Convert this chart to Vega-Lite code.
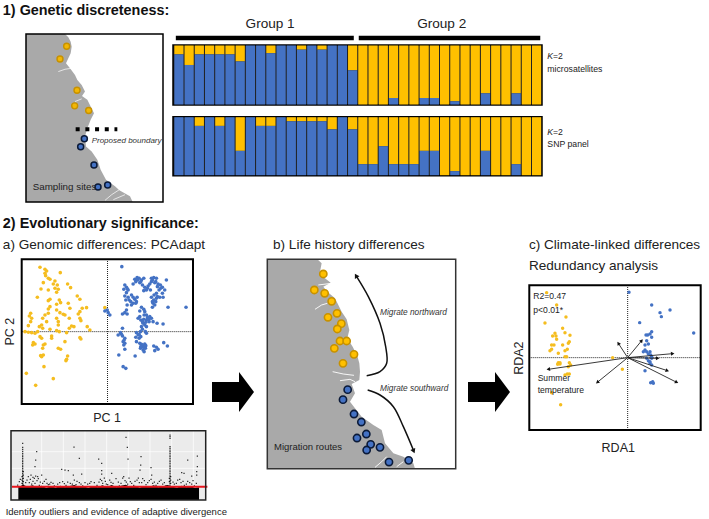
{"$schema":"https://vega.github.io/schema/vega-lite/v6.json","width":709,"height":519,"padding":0,"autosize":"none","background":"white","config":{"view":{"stroke":null},"text":{"font":"Liberation Sans"}},
"datasets":{
"frame01":[{"x":0,"x2":1,"y":0,"y2":1}],
"arrow":[{"x":0,"y":-10,"y2":10},{"x":27,"y":-10,"y2":10},{"x":27,"y":-20,"y2":20},{"x":42,"y":0,"y2":0}],
"q1":[{"ind":1,"blue":0.85},{"ind":2,"blue":0.67},{"ind":3,"blue":0.85},{"ind":4,"blue":0.85},{"ind":5,"blue":0.85},{"ind":6,"blue":0.85},{"ind":7,"blue":0.73},{"ind":8,"blue":1},{"ind":9,"blue":1},{"ind":10,"blue":0.87},{"ind":11,"blue":1},{"ind":12,"blue":1},{"ind":13,"blue":0.93},{"ind":14,"blue":1},{"ind":15,"blue":0.93},{"ind":16,"blue":1},{"ind":17,"blue":1},{"ind":18,"blue":0.58},{"ind":19,"blue":0},{"ind":20,"blue":0},{"ind":21,"blue":0},{"ind":22,"blue":0.11},{"ind":23,"blue":0},{"ind":24,"blue":0},{"ind":25,"blue":0.11},{"ind":26,"blue":0.11},{"ind":27,"blue":0},{"ind":28,"blue":0.055},{"ind":29,"blue":0},{"ind":30,"blue":0},{"ind":31,"blue":0.19},{"ind":32,"blue":0},{"ind":33,"blue":0},{"ind":34,"blue":0.19},{"ind":35,"blue":0},{"ind":36,"blue":0}],
"q2":[{"ind":1,"blue":1},{"ind":2,"blue":1},{"ind":3,"blue":0.85},{"ind":4,"blue":1},{"ind":5,"blue":0.85},{"ind":6,"blue":1},{"ind":7,"blue":0.42},{"ind":8,"blue":1},{"ind":9,"blue":0.85},{"ind":10,"blue":0.85},{"ind":11,"blue":1},{"ind":12,"blue":0.93},{"ind":13,"blue":0.93},{"ind":14,"blue":0.93},{"ind":15,"blue":0.93},{"ind":16,"blue":0.79},{"ind":17,"blue":1},{"ind":18,"blue":0.79},{"ind":19,"blue":0.19},{"ind":20,"blue":0.19},{"ind":21,"blue":0.5},{"ind":22,"blue":0.19},{"ind":23,"blue":0.19},{"ind":24,"blue":0.19},{"ind":25,"blue":0.42},{"ind":26,"blue":0.42},{"ind":27,"blue":0},{"ind":28,"blue":0.07},{"ind":29,"blue":0},{"ind":30,"blue":0},{"ind":31,"blue":0.42},{"ind":32,"blue":0},{"ind":33,"blue":0},{"ind":34,"blue":0.19},{"ind":35,"blue":0},{"ind":36,"blue":0}]
},
"resolve":{"scale":{"x":"independent","y":"independent"}},
"layer":[
{"encoding":{"x":{"field":"x","type":"quantitative","axis":null,"scale":{"domain":[0,411],"range":[26,163],"nice":false,"zero":false}},"y":{"field":"y","type":"quantitative","axis":null,"scale":{"domain":[0,505],"range":[202,34],"nice":false,"zero":false}}},
"layer":[
{"data":{"values":[{"x":117,"y":505,"x2":0},{"x":127,"y":495,"x2":0},{"x":134,"y":482,"x2":0},{"x":137,"y":467,"x2":0},{"x":134,"y":447,"x2":0},{"x":127,"y":432,"x2":0},{"x":120,"y":417,"x2":0},{"x":132,"y":402,"x2":0},{"x":147,"y":382,"x2":0},{"x":154,"y":367,"x2":0},{"x":167,"y":352,"x2":0},{"x":177,"y":332,"x2":0},{"x":168,"y":319,"x2":0},{"x":184,"y":307,"x2":0},{"x":194,"y":287,"x2":0},{"x":204,"y":267,"x2":0},{"x":194,"y":247,"x2":0},{"x":184,"y":222,"x2":0},{"x":177,"y":197,"x2":0},{"x":180,"y":167,"x2":0},{"x":197,"y":152,"x2":0},{"x":214,"y":127,"x2":0},{"x":224,"y":97,"x2":0},{"x":240,"y":67,"x2":0},{"x":267,"y":47,"x2":0},{"x":280,"y":35,"x2":0},{"x":312,"y":17,"x2":0},{"x":320,"y":0,"x2":0}]},"mark":{"type":"area","orient":"horizontal","color":"#A9A9A9"},"encoding":{"x2":{"field":"x2"}}},
{"data":{"values":[{"inlet":"a","ord":1,"x":97,"y":392},{"inlet":"a","ord":2,"x":117,"y":399},{"inlet":"a","ord":3,"x":137,"y":402},{"inlet":"b","ord":1,"x":237,"y":5},{"inlet":"b","ord":2,"x":257,"y":22},{"inlet":"b","ord":3,"x":280,"y":37},{"inlet":"c","ord":1,"x":262,"y":7},{"inlet":"c","ord":2,"x":297,"y":22},{"inlet":"e","ord":1,"x":167,"y":310},{"inlet":"e","ord":2,"x":147,"y":302}]},"mark":{"type":"line","color":"white","strokeWidth":0.7},"encoding":{"detail":{"field":"inlet"},"order":{"field":"ord"}}},
{"data":{"values":[{"x":149,"x2":274,"y":219,"y2":219}]},"mark":{"type":"rule","color":"black","strokeWidth":4,"strokeDash":[4,5.7]},"encoding":{"x2":{"field":"x2"},"y2":{"field":"y2"}}},
{"data":{"values":[{"x":122,"y":468},{"x":102,"y":430},{"x":153,"y":336},{"x":146,"y":289},{"x":188,"y":275}]},"mark":{"type":"point","filled":true,"fill":"#F2B705","stroke":"#C79100","strokeWidth":1.4,"size":36,"opacity":1}},
{"data":{"values":[{"x":175,"y":190},{"x":164,"y":166},{"x":204,"y":111},{"x":245,"y":51},{"x":216,"y":45}]},"mark":{"type":"point","filled":true,"fill":"#4472C4","stroke":"#0B1A38","strokeWidth":1.5,"size":36,"opacity":1}},
{"data":{"values":[{"x":197,"y":184,"label":"Proposed boundary"}]},"mark":{"type":"text","align":"left","baseline":"middle","fontSize":8,"fontStyle":"italic","color":"#333"},"encoding":{"text":{"field":"label"}}},
{"data":{"values":[{"x":20,"y":45,"label":"Sampling sites"}]},"mark":{"type":"text","align":"left","baseline":"middle","fontSize":9.8,"color":"#222"},"encoding":{"text":{"field":"label"}}},
{"data":{"values":[{"x":0,"x2":411,"y":0,"y2":505}]},"mark":{"type":"rect","fill":"transparent","stroke":"black","strokeWidth":1.5},"encoding":{"x2":{"field":"x2"},"y2":{"field":"y2"}}}
]},
{"data":{"name":"frame01"},"mark":{"type":"rect","fill":"#222222","stroke":"black","strokeWidth":1.5},"encoding":{"x":{"field":"x","type":"quantitative","axis":null,"scale":{"domain":[0,1],"range":[173,542]}},"x2":{"field":"x2"},"y":{"field":"y","type":"quantitative","axis":null,"scale":{"domain":[0,1],"range":[105,45]}},"y2":{"field":"y2"}}},
{"data":{"name":"frame01"},"mark":{"type":"rect","fill":"#222222","stroke":"black","strokeWidth":1.5},"encoding":{"x":{"field":"x","type":"quantitative","axis":null,"scale":{"domain":[0,1],"range":[173,542]}},"x2":{"field":"x2"},"y":{"field":"y","type":"quantitative","axis":null,"scale":{"domain":[0,1],"range":[175.7,116.7]}},"y2":{"field":"y2"}}},
{"data":{"name":"q1"},"encoding":{"x":{"field":"ind","type":"ordinal","axis":null,"scale":{"type":"band","range":[174,541.5],"paddingInner":0.1,"paddingOuter":0.03}},"y":{"field":"blue","type":"quantitative","axis":null,"scale":{"domain":[0,1],"range":[104.5,45.5],"nice":false}}},"layer":[{"mark":{"type":"bar","color":"#FFC000"},"encoding":{"y2":{"datum":1}}},{"mark":{"type":"bar","color":"#4472C4"},"encoding":{"y2":{"datum":0}}}]},
{"data":{"name":"q2"},"encoding":{"x":{"field":"ind","type":"ordinal","axis":null,"scale":{"type":"band","range":[174,541.5],"paddingInner":0.1,"paddingOuter":0.03}},"y":{"field":"blue","type":"quantitative","axis":null,"scale":{"domain":[0,1],"range":[175.2,117.2],"nice":false}}},"layer":[{"mark":{"type":"bar","color":"#FFC000"},"encoding":{"y2":{"datum":1}}},{"mark":{"type":"bar","color":"#4472C4"},"encoding":{"y2":{"datum":0}}}]},
{"encoding":{"x":{"field":"x","type":"quantitative","axis":null,"scale":{"domain":[-258,257],"range":[21.7,193],"nice":false,"zero":false}},"y":{"field":"y","type":"quantitative","axis":null,"scale":{"domain":[-217,217],"range":[404,259.3],"nice":false,"zero":false}}},
"layer":[
{"data":{"values":[{"x":-258,"x2":257,"y":0,"y2":0},{"x":0,"x2":0,"y":-217,"y2":217}]},"mark":{"type":"rule","color":"#222","strokeWidth":1,"strokeDash":[1,1]},"encoding":{"x2":{"field":"x2"},"y2":{"field":"y2"}}},
{"data":{"values":[{"x":-203,"y":193},{"x":-188,"y":187},{"x":-183,"y":182},{"x":-188,"y":175},{"x":-142,"y":177},{"x":-186,"y":168},{"x":-178,"y":160},{"x":-173,"y":157},{"x":-193,"y":147},{"x":-158,"y":152},{"x":-163,"y":143},{"x":-151,"y":140},{"x":-120,"y":143},{"x":-111,"y":132},{"x":-200,"y":128},{"x":-178,"y":125},{"x":-158,"y":130},{"x":-148,"y":127},{"x":-153,"y":118},{"x":-211,"y":103},{"x":-91,"y":107},{"x":-83,"y":97},{"x":-173,"y":97},{"x":-178,"y":93},{"x":-145,"y":95},{"x":-141,"y":87},{"x":-153,"y":82},{"x":-118,"y":85},{"x":-113,"y":70},{"x":-173,"y":75},{"x":-178,"y":68},{"x":-63,"y":72},{"x":-76,"y":70},{"x":-83,"y":60},{"x":-88,"y":53},{"x":-83,"y":40},{"x":-80,"y":33},{"x":-231,"y":55},{"x":-235,"y":47},{"x":-228,"y":40},{"x":-231,"y":30},{"x":-188,"y":50},{"x":-195,"y":40},{"x":-178,"y":55},{"x":-153,"y":40},{"x":-148,"y":30},{"x":-133,"y":52},{"x":-128,"y":50},{"x":-143,"y":57},{"x":-153,"y":65},{"x":-115,"y":40},{"x":-183,"y":30},{"x":-198,"y":20},{"x":-205,"y":15},{"x":-195,"y":10},{"x":-210,"y":0},{"x":-238,"y":18},{"x":-248,"y":0},{"x":-108,"y":17},{"x":-101,"y":15},{"x":-115,"y":10},{"x":-61,"y":15},{"x":-53,"y":5},{"x":-123,"y":-3},{"x":-153,"y":3},{"x":-145,"y":0},{"x":-173,"y":7},{"x":-148,"y":20},{"x":-203,"y":-15},{"x":-198,"y":-20},{"x":-168,"y":-13},{"x":-168,"y":-20},{"x":-128,"y":-30},{"x":-83,"y":-18},{"x":-80,"y":-22},{"x":-223,"y":-33},{"x":-218,"y":-37},{"x":-225,"y":-40},{"x":-193,"y":-40},{"x":-188,"y":-37},{"x":-195,"y":-50},{"x":-148,"y":-50},{"x":-141,"y":-53},{"x":-193,"y":-70},{"x":-201,"y":-72},{"x":-198,"y":-75},{"x":-120,"y":-73},{"x":-125,"y":-87},{"x":-123,"y":-83},{"x":-191,"y":-105},{"x":-244,"y":-125},{"x":-163,"y":-141},{"x":-216,"y":-161},{"x":-8,"y":72},{"x":-228,"y":-3},{"x":-238,"y":-2},{"x":-218,"y":-5}]},"mark":{"type":"point","filled":true,"color":"#F5BD1F","size":13,"opacity":1}},
{"data":{"values":[{"x":43,"y":195},{"x":82,"y":157},{"x":89,"y":162},{"x":95,"y":160},{"x":85,"y":150},{"x":97,"y":147},{"x":102,"y":155},{"x":109,"y":160},{"x":77,"y":143},{"x":52,"y":140},{"x":57,"y":133},{"x":49,"y":127},{"x":62,"y":125},{"x":57,"y":117},{"x":52,"y":107},{"x":62,"y":103},{"x":72,"y":110},{"x":77,"y":103},{"x":82,"y":97},{"x":89,"y":103},{"x":87,"y":90},{"x":77,"y":85},{"x":55,"y":95},{"x":59,"y":80},{"x":72,"y":80},{"x":105,"y":140},{"x":112,"y":133},{"x":117,"y":125},{"x":109,"y":123},{"x":122,"y":137},{"x":129,"y":125},{"x":132,"y":160},{"x":139,"y":162},{"x":147,"y":160},{"x":132,"y":150},{"x":127,"y":143},{"x":142,"y":147},{"x":152,"y":143},{"x":159,"y":140},{"x":165,"y":133},{"x":172,"y":125},{"x":177,"y":155},{"x":155,"y":125},{"x":147,"y":115},{"x":165,"y":115},{"x":132,"y":103},{"x":139,"y":95},{"x":147,"y":100},{"x":137,"y":85},{"x":135,"y":73},{"x":142,"y":80},{"x":167,"y":103},{"x":157,"y":103},{"x":182,"y":73},{"x":236,"y":73},{"x":-8,"y":62},{"x":-1,"y":65},{"x":2,"y":57},{"x":7,"y":50},{"x":57,"y":65},{"x":52,"y":57},{"x":45,"y":53},{"x":59,"y":53},{"x":102,"y":73},{"x":109,"y":67},{"x":97,"y":62},{"x":112,"y":60},{"x":92,"y":40},{"x":97,"y":45},{"x":117,"y":50},{"x":127,"y":45},{"x":109,"y":37},{"x":117,"y":35},{"x":125,"y":30},{"x":132,"y":40},{"x":137,"y":30},{"x":107,"y":25},{"x":102,"y":15},{"x":112,"y":20},{"x":117,"y":15},{"x":105,"y":7},{"x":149,"y":25},{"x":167,"y":23},{"x":45,"y":10},{"x":39,"y":-3},{"x":32,"y":-10},{"x":45,"y":-13},{"x":52,"y":-20},{"x":47,"y":-30},{"x":49,"y":-40},{"x":52,"y":-53},{"x":87,"y":-3},{"x":92,"y":-10},{"x":85,"y":-17},{"x":95,"y":-20},{"x":99,"y":0},{"x":114,"y":0},{"x":117,"y":-5},{"x":87,"y":-30},{"x":97,"y":-35},{"x":102,"y":-38},{"x":112,"y":-37},{"x":105,"y":-45},{"x":99,"y":-50},{"x":114,"y":-50},{"x":107,"y":-55},{"x":110,"y":-60},{"x":139,"y":-43},{"x":147,"y":-47},{"x":152,"y":-53},{"x":142,"y":-57},{"x":169,"y":-33},{"x":180,"y":-43},{"x":34,"y":-70},{"x":83,"y":-73},{"x":47,"y":-105},{"x":55,"y":-110},{"x":90,"y":155},{"x":100,"y":150},{"x":60,"y":128},{"x":120,"y":130},{"x":135,"y":155},{"x":145,"y":150},{"x":150,"y":135},{"x":160,"y":130},{"x":140,"y":110},{"x":150,"y":105},{"x":135,"y":90},{"x":145,"y":90},{"x":85,"y":85},{"x":70,"y":90},{"x":65,"y":95},{"x":110,"y":50},{"x":100,"y":35},{"x":120,"y":42},{"x":125,"y":38},{"x":105,"y":30},{"x":115,"y":28},{"x":95,"y":-8},{"x":100,"y":-15},{"x":105,"y":-42},{"x":110,"y":-48},{"x":100,"y":-45},{"x":115,"y":-42},{"x":52,"y":-35},{"x":50,"y":-25},{"x":42,"y":-8}]},"mark":{"type":"point","filled":true,"color":"#4472C4","size":13,"opacity":1}},
{"data":{"values":[{"x":-258,"x2":257,"y":-217,"y2":217}]},"mark":{"type":"rect","fill":"transparent","stroke":"black","strokeWidth":2},"encoding":{"x2":{"field":"x2"},"y2":{"field":"y2"}}}
]},
{"encoding":{"x":{"field":"x","type":"quantitative","axis":null,"scale":{"domain":[0,584],"range":[11,205.7],"nice":false,"zero":false}},"y":{"field":"y","type":"quantitative","axis":null,"scale":{"domain":[0,208],"range":[500,430.7],"nice":false,"zero":false}}},
"layer":[
{"data":{"values":[{"x":0,"x2":584,"y":0,"y2":208}]},"mark":{"type":"rect","fill":"#EBEBEB"},"encoding":{"x2":{"field":"x2"},"y2":{"field":"y2"}}},
{"data":{"values":[{"x":92,"x2":92,"y":0,"y2":208},{"x":157,"x2":157,"y":0,"y2":208},{"x":222,"x2":222,"y":0,"y2":208},{"x":287,"x2":287,"y":0,"y2":208},{"x":352,"x2":352,"y":0,"y2":208},{"x":417,"x2":417,"y":0,"y2":208},{"x":482,"x2":482,"y":0,"y2":208},{"x":547,"x2":547,"y":0,"y2":208},{"x":0,"x2":584,"y":145,"y2":145},{"x":0,"x2":584,"y":95,"y2":95}]},"mark":{"type":"rule","color":"white","strokeWidth":0.7},"encoding":{"x2":{"field":"x2"},"y2":{"field":"y2"}}},
{"data":{"values":[{"x":22,"y":38,"y2":0},{"x":36,"y":46,"y2":0},{"x":50,"y":40,"y2":0},{"x":64,"y":44,"y2":0},{"x":78,"y":39,"y2":0},{"x":92,"y":43,"y2":0},{"x":106,"y":36,"y2":0},{"x":120,"y":41,"y2":0},{"x":134,"y":37,"y2":0},{"x":148,"y":43,"y2":0},{"x":162,"y":38,"y2":0},{"x":176,"y":42,"y2":0},{"x":190,"y":45,"y2":0},{"x":204,"y":38,"y2":0},{"x":218,"y":41,"y2":0},{"x":232,"y":36,"y2":0},{"x":246,"y":42,"y2":0},{"x":260,"y":38,"y2":0},{"x":274,"y":44,"y2":0},{"x":288,"y":39,"y2":0},{"x":302,"y":45,"y2":0},{"x":316,"y":38,"y2":0},{"x":330,"y":43,"y2":0},{"x":344,"y":46,"y2":0},{"x":358,"y":39,"y2":0},{"x":372,"y":43,"y2":0},{"x":386,"y":37,"y2":0},{"x":400,"y":42,"y2":0},{"x":414,"y":39,"y2":0},{"x":428,"y":44,"y2":0},{"x":442,"y":38,"y2":0},{"x":456,"y":41,"y2":0},{"x":470,"y":45,"y2":0},{"x":484,"y":40,"y2":0},{"x":498,"y":37,"y2":0},{"x":512,"y":43,"y2":0},{"x":526,"y":38,"y2":0},{"x":540,"y":41,"y2":0},{"x":552,"y":36,"y2":0},{"x":564,"y":38,"y2":0}]},"mark":{"type":"area","color":"black"},"encoding":{"y2":{"field":"y2"}}},
{"data":{"values":[{"x":345,"y":188},{"x":349,"y":158},{"x":189,"y":159},{"x":77,"y":145},{"x":205,"y":125},{"x":263,"y":123},{"x":351,"y":123},{"x":390,"y":130},{"x":389,"y":105},{"x":272,"y":110},{"x":530,"y":120},{"x":559,"y":132},{"x":559,"y":100},{"x":420,"y":97},{"x":74,"y":120},{"x":72,"y":100},{"x":152,"y":92},{"x":162,"y":90},{"x":172,"y":88},{"x":272,"y":88},{"x":272,"y":78},{"x":212,"y":78},{"x":92,"y":75},{"x":187,"y":75},{"x":302,"y":80},{"x":387,"y":90},{"x":557,"y":85},{"x":512,"y":82},{"x":519,"y":80},{"x":557,"y":75},{"x":542,"y":72},{"x":422,"y":75},{"x":48,"y":60},{"x":55,"y":52},{"x":62,"y":48},{"x":70,"y":65},{"x":78,"y":58},{"x":85,"y":44},{"x":95,"y":50},{"x":105,"y":62},{"x":112,"y":46},{"x":120,"y":53},{"x":130,"y":42},{"x":140,"y":48},{"x":155,"y":55},{"x":165,"y":44},{"x":178,"y":50},{"x":190,"y":60},{"x":195,"y":46},{"x":205,"y":52},{"x":215,"y":42},{"x":230,"y":48},{"x":240,"y":55},{"x":258,"y":44},{"x":268,"y":62},{"x":275,"y":50},{"x":283,"y":56},{"x":290,"y":46},{"x":300,"y":53},{"x":315,"y":64},{"x":325,"y":42},{"x":335,"y":66},{"x":342,"y":58},{"x":350,"y":48},{"x":358,"y":55},{"x":368,"y":44},{"x":378,"y":60},{"x":385,"y":52},{"x":395,"y":64},{"x":405,"y":46},{"x":415,"y":58},{"x":425,"y":50},{"x":435,"y":44},{"x":445,"y":56},{"x":455,"y":48},{"x":465,"y":42},{"x":490,"y":48},{"x":500,"y":60},{"x":510,"y":52},{"x":520,"y":44},{"x":530,"y":56},{"x":542,"y":48},{"x":550,"y":42},{"x":20,"y":45},{"x":25,"y":55},{"x":28,"y":62},{"x":52,"y":70},{"x":60,"y":75},{"x":66,"y":68},{"x":80,"y":70},{"x":44,"y":52},{"x":58,"y":62},{"x":66,"y":56},{"x":72,"y":50},{"x":74,"y":72},{"x":82,"y":64},{"x":88,"y":54},{"x":100,"y":56},{"x":108,"y":50},{"x":116,"y":48},{"x":126,"y":50},{"x":146,"y":52},{"x":160,"y":49},{"x":170,"y":54},{"x":184,"y":48},{"x":198,"y":56},{"x":210,"y":48},{"x":222,"y":52},{"x":236,"y":50},{"x":250,"y":52},{"x":264,"y":54},{"x":272,"y":58},{"x":280,"y":66},{"x":286,"y":48},{"x":296,"y":60},{"x":306,"y":50},{"x":322,"y":54},{"x":330,"y":50},{"x":338,"y":70},{"x":346,"y":54},{"x":354,"y":66},{"x":362,"y":50},{"x":372,"y":56},{"x":382,"y":66},{"x":392,"y":52},{"x":400,"y":58},{"x":410,"y":52},{"x":420,"y":62},{"x":430,"y":54},{"x":440,"y":50},{"x":450,"y":60},{"x":460,"y":52},{"x":486,"y":54},{"x":496,"y":50},{"x":506,"y":62},{"x":516,"y":56},{"x":526,"y":48},{"x":536,"y":52},{"x":546,"y":58},{"x":556,"y":50},{"x":35,"y":40},{"x":35,"y":45},{"x":35,"y":50},{"x":35,"y":55},{"x":35,"y":60},{"x":35,"y":65},{"x":35,"y":70},{"x":35,"y":75},{"x":35,"y":80},{"x":35,"y":85},{"x":35,"y":90},{"x":35,"y":95},{"x":35,"y":100},{"x":35,"y":105},{"x":35,"y":110},{"x":35,"y":115},{"x":35,"y":120},{"x":35,"y":125},{"x":35,"y":130},{"x":35,"y":135},{"x":35,"y":140},{"x":35,"y":146},{"x":35,"y":152},{"x":35,"y":158},{"x":35,"y":170},{"x":37,"y":45},{"x":37,"y":55},{"x":37,"y":65},{"x":37,"y":75},{"x":37,"y":85},{"x":33,"y":50},{"x":33,"y":60},{"x":33,"y":70},{"x":477,"y":40},{"x":477,"y":45},{"x":477,"y":50},{"x":477,"y":55},{"x":477,"y":60},{"x":477,"y":65},{"x":477,"y":70},{"x":477,"y":75},{"x":477,"y":80},{"x":477,"y":85},{"x":477,"y":90},{"x":477,"y":95},{"x":477,"y":100},{"x":477,"y":105},{"x":477,"y":110},{"x":477,"y":115},{"x":477,"y":120},{"x":477,"y":125},{"x":477,"y":130},{"x":477,"y":135},{"x":477,"y":140},{"x":477,"y":145},{"x":477,"y":150},{"x":477,"y":155},{"x":477,"y":160},{"x":477,"y":185},{"x":477,"y":190},{"x":477,"y":195},{"x":479,"y":50},{"x":479,"y":60},{"x":479,"y":70},{"x":475,"y":55},{"x":475,"y":65}]},"mark":{"type":"point","shape":"square","filled":true,"color":"black","size":1.6,"opacity":0.8}},
{"data":{"values":[{"x":3,"x2":589,"y":40,"y2":40}]},"mark":{"type":"rule","color":"#E8141C","strokeWidth":2},"encoding":{"x2":{"field":"x2"},"y2":{"field":"y2"}}},
{"data":{"values":[{"x":0,"x2":584,"y":0,"y2":208}]},"mark":{"type":"rect","fill":"transparent","stroke":"#222","strokeWidth":1.5},"encoding":{"x2":{"field":"x2"},"y2":{"field":"y2"}}}
]},
{"encoding":{"x":{"field":"x","type":"quantitative","axis":null,"scale":{"domain":[0,565],"range":[267.3,455.7],"nice":false,"zero":false}},"y":{"field":"y","type":"quantitative","axis":null,"scale":{"domain":[0,628],"range":[468.7,259.3],"nice":false,"zero":false}}},
"layer":[
{"data":{"values":[{"x":150,"y":628,"x2":0},{"x":163,"y":616,"x2":0},{"x":158,"y":591,"x2":0},{"x":173,"y":571,"x2":0},{"x":190,"y":558,"x2":0},{"x":168,"y":546,"x2":0},{"x":180,"y":531,"x2":0},{"x":203,"y":511,"x2":0},{"x":213,"y":491,"x2":0},{"x":223,"y":471,"x2":0},{"x":238,"y":448,"x2":0},{"x":246,"y":416,"x2":0},{"x":240,"y":391,"x2":0},{"x":256,"y":366,"x2":0},{"x":270,"y":338,"x2":0},{"x":276,"y":316,"x2":0},{"x":278,"y":291,"x2":0},{"x":276,"y":266,"x2":0},{"x":253,"y":254,"x2":0},{"x":263,"y":226,"x2":0},{"x":248,"y":201,"x2":0},{"x":263,"y":181,"x2":0},{"x":283,"y":156,"x2":0},{"x":318,"y":131,"x2":0},{"x":343,"y":116,"x2":0},{"x":353,"y":76,"x2":0},{"x":378,"y":46,"x2":0},{"x":408,"y":36,"x2":0},{"x":438,"y":16,"x2":0},{"x":443,"y":0,"x2":0}]},"mark":{"type":"area","orient":"horizontal","color":"#A9A9A9"},"encoding":{"x2":{"field":"x2"}}},
{"data":{"values":[{"inlet":"a","ord":1,"x":196,"y":291},{"inlet":"a","ord":2,"x":228,"y":284},{"inlet":"a","ord":3,"x":260,"y":280},{"inlet":"b","ord":1,"x":143,"y":478},{"inlet":"b","ord":2,"x":163,"y":491},{"inlet":"b","ord":3,"x":180,"y":496},{"inlet":"c","ord":1,"x":153,"y":551},{"inlet":"c","ord":2,"x":193,"y":556},{"inlet":"d","ord":1,"x":218,"y":264},{"inlet":"d","ord":2,"x":248,"y":268},{"inlet":"d","ord":3,"x":263,"y":261},{"inlet":"e","ord":1,"x":323,"y":4},{"inlet":"e","ord":2,"x":343,"y":21},{"inlet":"e","ord":3,"x":358,"y":36},{"inlet":"f","ord":1,"x":388,"y":6},{"inlet":"f","ord":2,"x":408,"y":21}]},"mark":{"type":"line","color":"white","strokeWidth":0.9},"encoding":{"detail":{"field":"inlet"},"order":{"field":"ord"}}},
{"data":{"values":[{"x":168,"y":584},{"x":141,"y":536},{"x":172,"y":526},{"x":193,"y":502},{"x":209,"y":466},{"x":182,"y":454},{"x":222,"y":435},{"x":210,"y":419},{"x":218,"y":383},{"x":238,"y":383},{"x":201,"y":361},{"x":260,"y":343},{"x":227,"y":316}]},"mark":{"type":"point","filled":true,"fill":"#FFC000","stroke":"#C79100","strokeWidth":1.6,"size":52,"opacity":1}},
{"data":{"values":[{"x":241,"y":237},{"x":227,"y":207},{"x":260,"y":164},{"x":282,"y":140},{"x":297,"y":104},{"x":269,"y":92},{"x":310,"y":73},{"x":298,"y":56},{"x":338,"y":64},{"x":365,"y":20},{"x":424,"y":25}]},"mark":{"type":"point","filled":true,"fill":"#4472C4","stroke":"#0B1A38","strokeWidth":1.6,"size":52,"opacity":1}},
{"data":{"values":[{"route":"north","ord":1,"x":298,"y":279},{"route":"north","ord":2,"x":338,"y":291},{"route":"north","ord":3,"x":358,"y":316},{"route":"north","ord":4,"x":355,"y":366},{"route":"north","ord":5,"x":338,"y":436},{"route":"north","ord":6,"x":303,"y":516},{"route":"north","ord":7,"x":268,"y":576},{"route":"south","ord":1,"x":301,"y":236},{"route":"south","ord":2,"x":338,"y":221},{"route":"south","ord":3,"x":378,"y":186},{"route":"south","ord":4,"x":408,"y":126},{"route":"south","ord":5,"x":438,"y":56}]},"mark":{"type":"line","color":"#111","strokeWidth":1.5,"interpolate":"catmull-rom"},"encoding":{"detail":{"field":"route"},"order":{"field":"ord"}}},
{"data":{"values":[{"x":266,"y":579,"bearing":330},{"x":439,"y":53,"bearing":157}]},"mark":{"type":"point","shape":"triangle-up","filled":true,"color":"#111","size":28,"opacity":1},"encoding":{"angle":{"field":"bearing","type":"quantitative","scale":null}}},
{"data":{"values":[{"x":338,"y":466,"label":"Migrate northward"},{"x":338,"y":239,"label":"Migrate southward"}]},"mark":{"type":"text","align":"left","baseline":"middle","fontSize":8.3,"fontStyle":"italic","color":"#333"},"encoding":{"text":{"field":"label"}}},
{"data":{"values":[{"x":20,"y":66,"label":"Migration routes"}]},"mark":{"type":"text","align":"left","baseline":"middle","fontSize":9.5,"color":"#222"},"encoding":{"text":{"field":"label"}}},
{"data":{"values":[{"x":0,"x2":565,"y":0,"y2":628}]},"mark":{"type":"rect","fill":"transparent","stroke":"#333","strokeWidth":1.5},"encoding":{"x2":{"field":"x2"},"y2":{"field":"y2"}}}
]},
{"data":{"name":"arrow"},"mark":{"type":"area","color":"black"},"encoding":{"x":{"field":"x","type":"quantitative","axis":null,"scale":{"domain":[0,42],"range":[212,254],"nice":false,"zero":false}},"y":{"field":"y","type":"quantitative","axis":null,"scale":{"domain":[-20,20],"range":[412,372],"nice":false,"zero":false}},"y2":{"field":"y2"}}},
{"data":{"name":"arrow"},"mark":{"type":"area","color":"black"},"encoding":{"x":{"field":"x","type":"quantitative","axis":null,"scale":{"domain":[0,42],"range":[468,510],"nice":false,"zero":false}},"y":{"field":"y","type":"quantitative","axis":null,"scale":{"domain":[-20,20],"range":[412,372],"nice":false,"zero":false}},"y2":{"field":"y2"}}},
{"encoding":{"x":{"field":"x","type":"quantitative","axis":null,"scale":{"domain":[-295,219],"range":[529.3,700.7],"nice":false,"zero":false}},"y":{"field":"y","type":"quantitative","axis":null,"scale":{"domain":[-217,217],"range":[430,285.3],"nice":false,"zero":false}}},
"layer":[
{"data":{"values":[{"x":-295,"x2":219,"y":0,"y2":0},{"x":0,"x2":0,"y":-217,"y2":217}]},"mark":{"type":"rule","color":"#222","strokeWidth":1,"strokeDash":[1,1]},"encoding":{"x2":{"field":"x2"},"y2":{"field":"y2"}}},
{"data":{"values":[{"x":-243,"y":195},{"x":-213,"y":158},{"x":-185,"y":122},{"x":-248,"y":104},{"x":-195,"y":88},{"x":-218,"y":73},{"x":-225,"y":65},{"x":-215,"y":65},{"x":-188,"y":75},{"x":-173,"y":67},{"x":-213,"y":55},{"x":-175,"y":48},{"x":-221,"y":38},{"x":-228,"y":38},{"x":-195,"y":38},{"x":-178,"y":43},{"x":-181,"y":25},{"x":-188,"y":21},{"x":-233,"y":21},{"x":-228,"y":25},{"x":-208,"y":13},{"x":-188,"y":3},{"x":-183,"y":3},{"x":-175,"y":-15},{"x":-171,"y":-22},{"x":-208,"y":-15},{"x":-203,"y":-15},{"x":-210,"y":-20},{"x":-178,"y":-27},{"x":-45,"y":0},{"x":-16,"y":-35},{"x":-181,"y":-49},{"x":-188,"y":-52},{"x":-175,"y":-49},{"x":-228,"y":-105},{"x":-201,"y":-141},{"x":-203,"y":-19}]},"mark":{"type":"point","filled":true,"color":"#F5BD1F","size":12,"opacity":1}},
{"data":{"values":[{"x":4,"y":196},{"x":72,"y":158},{"x":97,"y":135},{"x":101,"y":123},{"x":127,"y":143},{"x":36,"y":105},{"x":198,"y":74},{"x":72,"y":78},{"x":67,"y":71},{"x":60,"y":68},{"x":55,"y":68},{"x":72,"y":61},{"x":57,"y":51},{"x":52,"y":38},{"x":62,"y":41},{"x":52,"y":23},{"x":47,"y":18},{"x":57,"y":18},{"x":67,"y":18},{"x":62,"y":11},{"x":69,"y":8},{"x":57,"y":-2},{"x":72,"y":-2},{"x":62,"y":-9},{"x":67,"y":-17},{"x":72,"y":-22},{"x":52,"y":-39},{"x":69,"y":-75},{"x":75,"y":-72},{"x":77,"y":-77},{"x":72,"y":3},{"x":67,"y":-12}]},"mark":{"type":"point","filled":true,"color":"#4472C4","size":12,"opacity":1}},
{"data":{"values":[{"x":-238,"y":-35,"x2":0,"y2":0},{"x":-91,"y":-74,"x2":0,"y2":0},{"x":-28,"y":43,"x2":0,"y2":0},{"x":42,"y":51,"x2":0,"y2":0},{"x":135,"y":12,"x2":0,"y2":0},{"x":90,"y":-2,"x2":0,"y2":0},{"x":119,"y":-39,"x2":0,"y2":0},{"x":147,"y":-74,"x2":0,"y2":0}]},"mark":{"type":"rule","color":"#222","strokeWidth":0.9},"encoding":{"x2":{"field":"x2"},"y2":{"field":"y2"}}},
{"data":{"values":[{"x":-238,"y":-35},{"x":-91,"y":-74},{"x":-28,"y":43},{"x":42,"y":51},{"x":135,"y":12},{"x":90,"y":-2},{"x":119,"y":-39},{"x":147,"y":-74}]},"transform":[{"calculate":"(atan2(datum.x,datum.y)*180/PI+360)%360","as":"bearing"}],"mark":{"type":"point","shape":"triangle-up","filled":true,"color":"#111","size":16,"opacity":1},"encoding":{"angle":{"field":"bearing","type":"quantitative","scale":null}}},
{"data":{"values":[{"x":-283,"y":185,"label":"R2=0.47"},{"x":-283,"y":143,"label":"p<0.01*"},{"x":-270,"y":-60,"label":"Summer"},{"x":-270,"y":-97,"label":"temperature"}]},"mark":{"type":"text","align":"left","baseline":"middle","fontSize":8.6,"color":"#222"},"encoding":{"text":{"field":"label"}}},
{"data":{"values":[{"x":-295,"x2":219,"y":-217,"y2":217}]},"mark":{"type":"rect","fill":"transparent","stroke":"black","strokeWidth":2},"encoding":{"x2":{"field":"x2"},"y2":{"field":"y2"}}}
]},
{"encoding":{"x":{"field":"x","type":"quantitative","axis":null,"scale":{"domain":[0,100],"range":[0,709],"nice":false,"zero":false}},"y":{"field":"y","type":"quantitative","axis":null,"scale":{"domain":[0,100],"range":[0,519],"nice":false,"zero":false}}},
"layer":[
{"data":{"values":[{"x":24.8,"x2":49.9,"y":7.3,"y2":7.3},{"x":50.6,"x2":76.2,"y":7.3,"y2":7.3}]},"mark":{"type":"rule","color":"black","strokeWidth":4.5},"encoding":{"x2":{"field":"x2"},"y2":{"field":"y2"}}},
{"data":{"values":[{"x":0.4,"y":2.1,"label":"1) Genetic discreteness:"},{"x":0.4,"y":43.2,"label":"2) Evolutionary significance:"}]},"mark":{"type":"text","align":"left","baseline":"middle","fontSize":14.4,"fontWeight":"bold","color":"#111"},"encoding":{"text":{"field":"label"}}},
{"data":{"values":[{"x":0.4,"y":47.2,"label":"a) Genomic differences: PCAdapt"},{"x":38.5,"y":47.2,"label":"b) Life history differences"},{"x":74.6,"y":47.2,"label":"c) Climate-linked differences"},{"x":74.6,"y":51.3,"label":"Redundancy analysis"}]},"mark":{"type":"text","align":"left","baseline":"middle","fontSize":13.6,"color":"#222"},"encoding":{"text":{"field":"label"}}},
{"data":{"values":[{"x":38.1,"y":4.6,"label":"Group 1"},{"x":62.3,"y":4.6,"label":"Group 2"}]},"mark":{"type":"text","align":"center","baseline":"middle","fontSize":13.6,"color":"#222"},"encoding":{"text":{"field":"label"}}},
{"data":{"values":[{"x":77.2,"y":10.8,"label":"K"},{"x":77.2,"y":25.4,"label":"K"}]},"mark":{"type":"text","align":"left","baseline":"middle","fontSize":8.7,"fontStyle":"italic","color":"#222"},"encoding":{"text":{"field":"label"}}},
{"data":{"values":[{"x":78,"y":10.8,"label":"=2"},{"x":78,"y":25.4,"label":"=2"},{"x":77.2,"y":13.3,"label":"microsatellites"},{"x":77.2,"y":27.8,"label":"SNP panel"}]},"mark":{"type":"text","align":"left","baseline":"middle","fontSize":8.7,"color":"#222"},"encoding":{"text":{"field":"label"}}},
{"data":{"values":[{"x":15.1,"y":80.5,"label":"PC 1"},{"x":87.2,"y":86.3,"label":"RDA1"}]},"mark":{"type":"text","align":"center","baseline":"middle","fontSize":12.5,"color":"#222"},"encoding":{"text":{"field":"label"}}},
{"data":{"values":[{"x":1.4,"y":63.9,"label":"PC 2"},{"x":73.2,"y":69,"label":"RDA2"}]},"mark":{"type":"text","align":"center","baseline":"middle","fontSize":12.5,"angle":270,"color":"#222"},"encoding":{"text":{"field":"label"}}},
{"data":{"values":[{"x":16.4,"y":98.6,"label":"Identify outliers and evidence of adaptive divergence"}]},"mark":{"type":"text","align":"center","baseline":"middle","fontSize":9.5,"color":"#222"},"encoding":{"text":{"field":"label"}}}
]}
]}
